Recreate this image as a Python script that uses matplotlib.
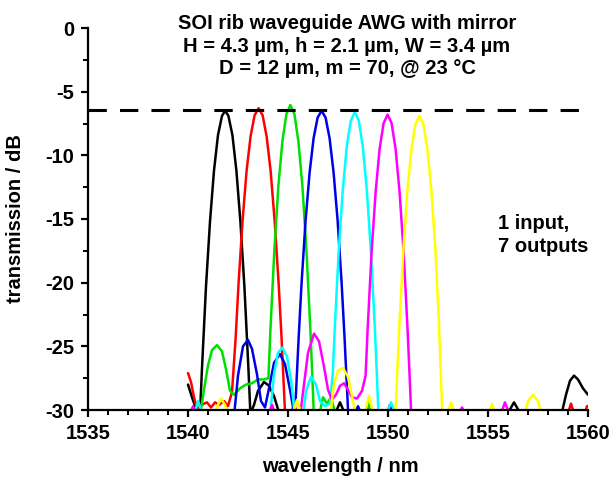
import numpy as np
import matplotlib
matplotlib.use("Agg")
import matplotlib.pyplot as plt
from matplotlib.ticker import MultipleLocator

plt.rcParams['font.family'] = ['Liberation Sans', 'DejaVu Sans']
plt.rcParams['font.weight'] = 'bold'
plt.rcParams['axes.unicode_minus'] = False

nan = np.nan

# (wavelength in nm, transmission in dB)
black_x = [1540.0, 1540.2, 1540.4, 1540.6, 1540.7, 1540.9, 1541.1, 1541.3, 1541.5, 1541.7, 1541.86,
           1542.02, 1542.22, 1542.42, 1542.62, 1542.82, 1543.02, 1543.12, 1543.3, 1543.5, 1543.8,
           1544.05, 1544.3, 1544.55, nan, 1547.3, 1547.6, 1547.9, nan, 1555.9, 1556.3, 1556.7, nan,
           1558.65, 1558.9, 1559.1, 1559.3, 1559.5, 1559.75, 1560.0]
black_y = [-28.0, -29.0, -29.9, -30.3, -26.7, -20.3, -15.2, -11.2, -8.4, -6.9, -6.5,
           -6.9, -8.4, -11.2, -15.2, -20.3, -26.7, -30.3, -29.6, -28.5, -27.8,
           -28.1, -28.9, -30.2, nan, -30.5, -29.4, -30.5, nan, -30.5, -29.4, -30.5, nan,
           -30.5, -28.8, -27.7, -27.3, -27.6, -28.3, -28.8]

red_x = [1540.0, 1540.15, 1540.3, 1540.45, 1540.6, 1540.8, 1540.95, 1541.15, 1541.35, 1541.55, 1541.8,
         1542.0, 1542.2, 1542.38, 1542.53, 1542.73, 1542.93, 1543.13, 1543.33, 1543.53, 1543.73,
         1543.93, 1544.13, 1544.33, 1544.53, 1544.68, 1544.83, 1544.88, nan, 1545.1, 1545.3, 1545.55, nan,
         1548.8, 1549.0, 1549.2, nan, 1558.95, 1559.15, 1559.35, nan, 1559.8, 1559.95, 1560.0]
red_y = [-27.1, -27.8, -29.0, -29.9, -29.7, -29.5, -29.4, -29.8, -29.4, -29.6, -29.3,
         -29.7, -28.6, -24.4, -20.0, -15.1, -11.2, -8.5, -6.85, -6.3, -6.85,
         -8.5, -11.2, -15.1, -20.0, -24.4, -29.5, -31.0, nan, -30.5, -29.6, -30.5, nan,
         -30.5, -29.7, -30.5, nan, -30.5, -29.5, -30.5, nan, -30.5, -29.7, -29.7]

green_x = [1540.6, 1540.8, 1541.0, 1541.2, 1541.45, 1541.7, 1541.9, 1542.1, 1542.3, 1542.6, 1542.9,
           1543.2, 1543.5, 1543.8, 1544.02, 1544.12, 1544.32, 1544.52, 1544.72, 1544.92, 1545.12,
           1545.32, 1545.52, 1545.72, 1545.92, 1546.12, 1546.22, 1546.29, nan, 1546.55, 1546.75,
           1546.95, 1547.15, 1547.4, nan, 1548.8, 1549.0, 1549.2]
green_y = [-30.5, -28.4, -26.5, -25.3, -24.9, -25.4, -26.8, -28.5, -28.8, -28.3, -28.0,
           -27.9, -27.6, -27.6, -27.5, -23.75, -17.4, -12.4, -8.9, -6.76, -6.05,
           -6.76, -8.9, -12.4, -17.4, -23.75, -27.5, -30.3, nan, -30.5, -29.0,
           -29.5, -29.0, -30.5, nan, -30.5, -29.4, -30.5]

blue_x = [1542.3, 1542.5, 1542.75, 1543.0, 1543.2, 1543.45, 1543.65, 1543.85, 1544.05, 1544.3, 1544.6,
          1544.85, 1545.1, 1545.3, 1545.38, 1545.53, 1545.68, 1545.88, 1546.08, 1546.28, 1546.48,
          1546.68, 1546.88, 1547.08, 1547.28, 1547.48, 1547.68, 1547.83, 1547.98, 1548.02, nan,
          1548.3, 1548.5, 1548.7, nan, 1549.9, 1550.1, 1550.3]
blue_y = [-30.5, -27.3, -25.0, -24.5, -25.2, -27.2, -29.3, -29.8, -28.3, -26.3, -25.6,
          -26.4, -28.4, -30.2, -29.3, -24.4, -20.0, -15.1, -11.36, -8.66, -7.04,
          -6.5, -7.04, -8.66, -11.36, -15.1, -20.0, -24.4, -29.3, -30.7, nan,
          -30.5, -29.7, -30.5, nan, -30.5, -29.6, -30.5]

cyan_x = [1540.3, 1540.5, 1540.75, nan, 1544.1, 1544.3, 1544.5, 1544.72, 1544.95, 1545.15, 1545.35, nan,
          1545.75, 1545.9, 1546.15, 1546.4, 1546.6, 1546.85, 1547.1, 1547.24, 1547.34, 1547.54,
          1547.74, 1547.94, 1548.14, 1548.34, 1548.54, 1548.74, 1548.94, 1549.14, 1549.34, 1549.44,
          1549.52, 1549.6, nan, 1549.9, 1550.15, 1550.4]
cyan_y = [-30.5, -29.3, -30.5, nan, -30.5, -27.2, -25.5, -25.1, -25.8, -27.6, -30.5, nan,
          -30.5, -28.5, -27.4, -28.0, -29.3, -29.7, -29.5, -27.1, -23.5, -17.4,
          -12.7, -9.3, -7.28, -6.6, -7.28, -9.3, -12.7, -17.4, -23.5, -27.1,
          -30.1, -30.5, nan, -30.5, -29.4, -30.5]

magenta_x = [1540.05, 1540.25, 1540.45, nan, 1544.0, 1544.2, 1544.4, nan, 1545.6, 1545.8, 1546.0,
             1546.3, 1546.55, 1546.8, 1547.0, 1547.2, 1547.4, 1547.6, 1547.8, 1548.0, 1548.2,
             1548.45, 1548.7, 1548.88, 1548.98, 1549.18, 1549.38, 1549.58, 1549.78, 1549.98, 1550.18,
             1550.38, 1550.58, 1550.78, 1550.98, 1551.08, 1551.15, 1551.2, nan, 1553.5, 1553.7, 1553.9,
             nan, 1555.6, 1555.85, 1556.1]
magenta_y = [-30.5, -29.7, -30.5, nan, -30.5, -29.6, -30.5, nan, -30.5, -28.0, -25.5,
             -24.0, -24.6, -26.6, -28.4, -29.2, -28.8, -28.1, -27.9, -28.4, -29.0,
             -29.1, -28.5, -27.3, -23.7, -17.6, -12.9, -9.5, -7.48, -6.8, -7.48,
             -9.5, -12.9, -17.6, -23.7, -27.3, -29.9, -30.5, nan, -30.5, -29.8, -30.5,
             nan, -30.5, -29.4, -30.5]

yellow_x = [1541.3, 1541.5, 1541.65, 1541.85, 1542.05, nan, 1545.2, 1545.45, 1545.7, nan,
            1547.1, 1547.3, 1547.5, 1547.75, 1548.0, 1548.2, 1548.4, nan, 1548.8, 1549.05, 1549.3, nan,
            1550.37, 1550.47, 1550.57, 1550.77, 1550.97, 1551.17, 1551.37, 1551.57, 1551.77, 1551.97,
            1552.17, 1552.37, 1552.55, 1552.63, 1552.72, nan, 1552.95, 1553.15, 1553.35, nan,
            1555.0, 1555.2, 1555.4, nan, 1556.8, 1557.0, 1557.25, 1557.5, 1557.7]
yellow_y = [-30.5, -29.6, -29.1, -29.6, -30.5, nan, -30.5, -29.2, -30.5, nan,
            -30.5, -28.0, -26.9, -26.7, -27.4, -28.9, -30.5, nan, -30.5, -28.9, -30.5, nan,
            -30.5, -26.7, -23.3, -17.4, -12.8, -9.52, -7.56, -6.9, -7.56, -9.52,
            -12.8, -17.4, -23.3, -26.7, -30.5, nan, -30.5, -29.4, -30.5, nan,
            -30.5, -29.5, -30.5, nan, -30.5, -29.3, -28.8, -29.3, -30.5]

ref_level = -6.45
x_ticks = [1535, 1540, 1545, 1550, 1555, 1560]
y_ticks = [0, -5, -10, -15, -20, -25, -30]

series = [(black_x, black_y, '#000000'), (red_x, red_y, '#ff0000'),
          (green_x, green_y, '#00e000'), (blue_x, blue_y, '#0000e6'),
          (cyan_x, cyan_y, '#00ffff'), (magenta_x, magenta_y, '#ff00ff'),
          (yellow_x, yellow_y, '#ffff00')]

fig = plt.figure(figsize=(6.1, 4.84), dpi=100)
ax = fig.add_axes([88 / 610, 74 / 484, 500 / 610, 382 / 484])

for xs, ys, c in series:
    ax.plot(xs, ys, color=c, lw=1.8, solid_capstyle='round', zorder=2)

ax.plot([1535, 1560], [ref_level, ref_level], color='black', lw=2.2, dashes=(6, 4.3), zorder=3)

ax.set_xlim(1535, 1560)
ax.set_ylim(-30, 0)
ax.set_xticks(x_ticks)
ax.set_yticks(y_ticks)
ax.xaxis.set_minor_locator(MultipleLocator(1))
ax.yaxis.set_minor_locator(MultipleLocator(2.5))

for s in ['top', 'right']:
    ax.spines[s].set_visible(False)
for s in ['left', 'bottom']:
    ax.spines[s].set_linewidth(1.6)
    ax.spines[s].set_zorder(5)

ax.tick_params(which='major', direction='out', length=5, width=1.6, labelsize=14.5, pad=5)
ax.tick_params(which='minor', direction='out', length=3.5, width=1.4)
for lab in ax.get_xticklabels() + ax.get_yticklabels():
    lab.set_fontweight('bold')

ax.set_xlabel('wavelength / nm', fontsize=14.5, fontweight='bold')
ax.set_ylabel('transmission / dB', fontsize=14.5, fontweight='bold')
ax.xaxis.set_label_coords(252 / 500, -47 / 382)
ax.yaxis.set_label_coords(-63 / 500, 0.5)

fig.text(347 / 610, 1 - 46 / 484, 'SOI rib waveguide AWG with mirror\n'
         'H = 4.3 µm, h = 2.1 µm, W = 3.4 µm\nD = 12 µm, m = 70, @ 23 °C',
         ha='center', va='center', fontsize=14.5, fontweight='bold', linespacing=1.25)
fig.text(498 / 610, 1 - 235 / 484, '1 input,\n7 outputs', ha='left', va='center',
         fontsize=14.5, fontweight='bold', linespacing=1.25)

fig.savefig('out.png', dpi=100)
